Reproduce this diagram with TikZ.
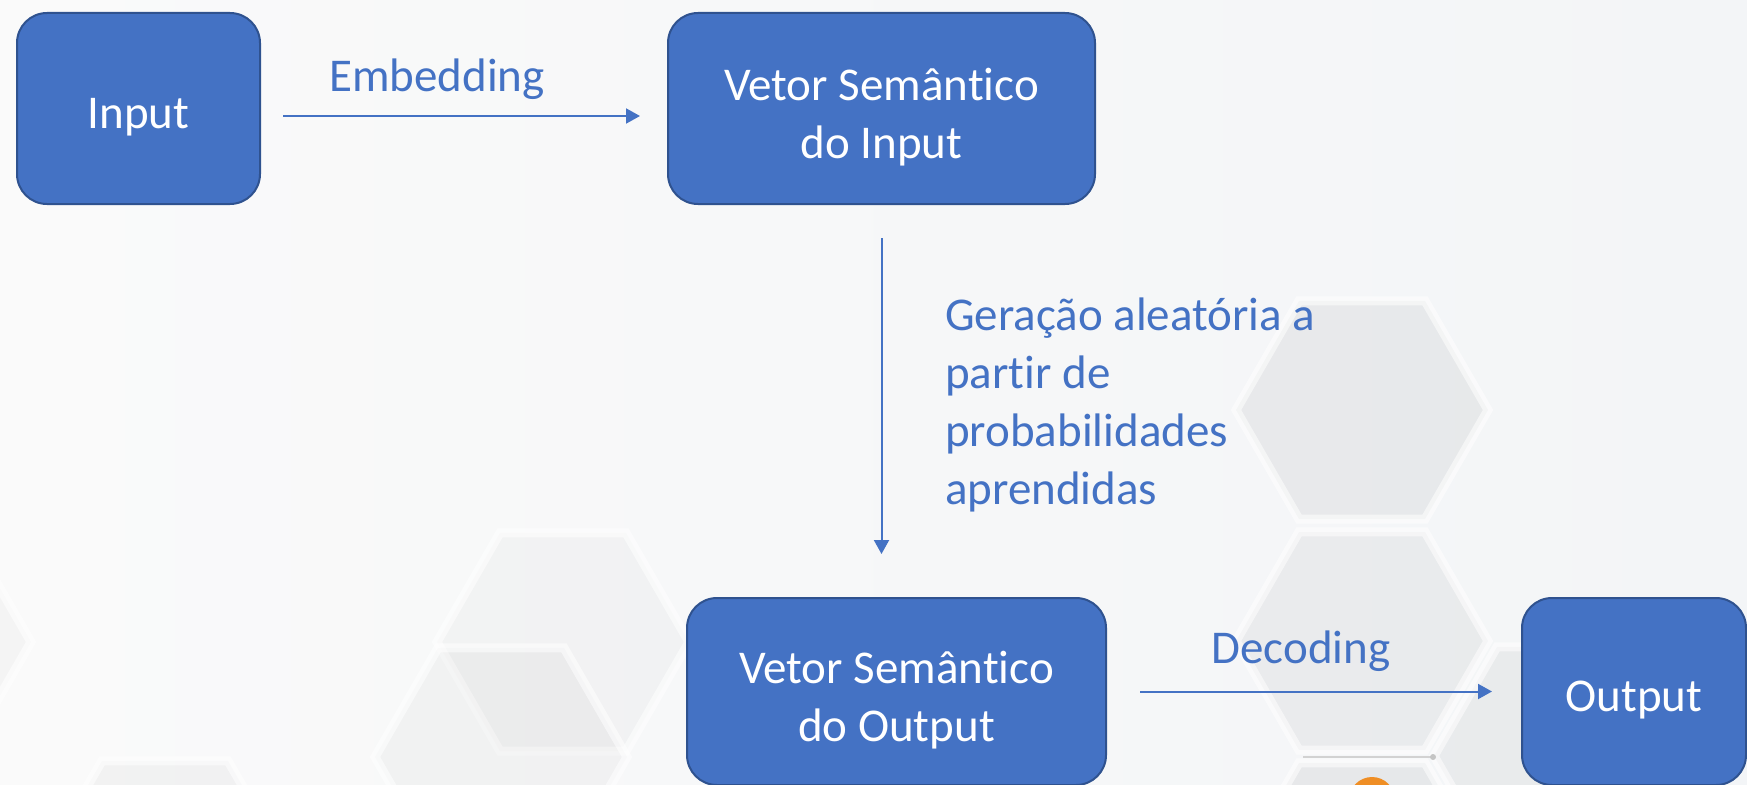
\documentclass[tikz,border=0pt]{standalone}
\usepackage{fontspec}
\setmainfont{Carlito}[Ligatures=NoCommon]
\usetikzlibrary{arrows.meta,calc}
\definecolor{obl}{HTML}{4472C4}
\definecolor{obd}{HTML}{2F528F}
\definecolor{bgl}{HTML}{FAFAFA}
\definecolor{bgr}{HTML}{F3F5F7}
\definecolor{orng}{HTML}{EF8E25}
\definecolor{gline}{HTML}{D2D2D2}
\definecolor{gdot}{HTML}{C4C4C4}
\tikzset{
 boxtext/.style={text=white, align=center, font=\fontsize{47}{58}\selectfont, inner sep=0pt, yshift=-9pt},
 box/.style={draw=obd, line width=2pt, fill=obl, rounded corners=30pt, inner sep=0pt, minimum height=191pt, label={[boxtext]center:#1}},
 conn/.style={draw=obl, line width=2pt, -{Triangle[length=14pt,width=15pt]}},
 lbl/.style={text=obl, font=\fontsize{47}{58}\selectfont, inner sep=0pt},
 hexcellstyle/.style={draw=white, draw opacity=0.55, line width=9pt, fill=black, line join=miter}
}
\newcommand\hexcell[3]{\begin{scope}[shift={(#1,#2)}]\filldraw[hexcellstyle, fill opacity=#3] (0:126)--(60:126)--(120:126)--(180:126)--(240:126)--(300:126)--cycle;\end{scope}}
\begin{document}
\begin{tikzpicture}[x=1pt,y=-1pt]
\useasboundingbox (0,0) rectangle (1747,784);
\begin{scope}
\clip (0,0) rectangle (1747,784);
\fill[left color=bgl, right color=bgr] (0,0) rectangle (1747,784);
\hexcell{1362}{410}{0.05}
\hexcell{1362}{641}{0.045}
\hexcell{1362}{872}{0.055}
\hexcell{1560}{756}{0.045}
\hexcell{563}{642}{0.025}
\hexcell{501}{757}{0.028}
\hexcell{-95}{642}{0.025}
\hexcell{165}{870}{0.03}
\draw[line width=2pt, draw=gline] (1303,757) -- (1433,757);
\fill[gdot] (1433,757) circle (3);
\fill[orng] (1372,800) circle (23);
\end{scope}

\node[box={Input}, minimum width=243pt] (in) at (138.5,108.5) {};
\node[box={Vetor Semântico\\do Input}, minimum width=427pt] (vin) at (881.5,108.5) {};
\node[box={Vetor Semântico\\do Output}, minimum width=419pt, minimum height=187pt] (vout) at (896.5,691.5) {};
\node[box={Output}, minimum width=224pt, minimum height=187pt] (out) at (1634,691.5) {};

\node[lbl] (emb) at (437,79) {Embedding};
\node[lbl] (dec) at (1301,651) {Decoding};
\node[lbl, align=left, anchor=west] (gen) at (945,405) {Geração aleatória a\\partir de\\probabilidades\\aprendidas};

\draw[conn, shorten <=22pt, shorten >=27pt] ([yshift=-7.5pt]in.east) -- ([yshift=-7.5pt]vin.west);
\draw[conn, shorten <=33pt, shorten >=43pt] (vin.south) -- (vin.south |- vout.north);
\draw[conn, shorten <=33pt, shorten >=29pt] (vout.east) -- (out.west);
\end{tikzpicture}
\end{document}
